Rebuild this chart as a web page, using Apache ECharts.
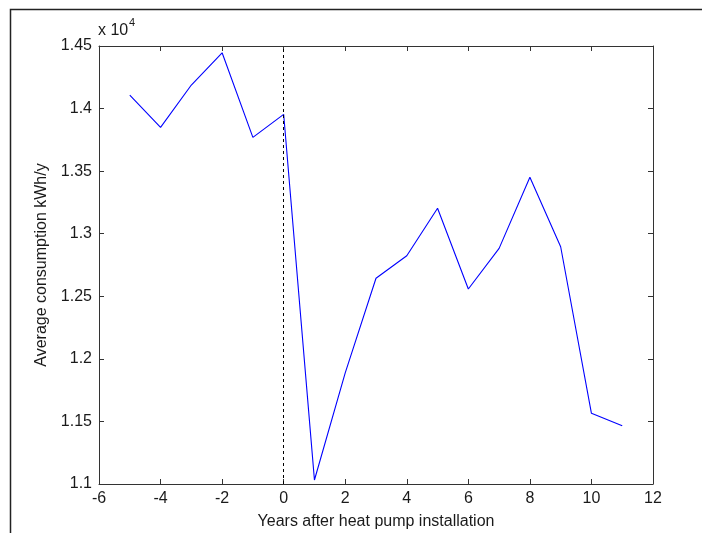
<!DOCTYPE html>
<html>
<head>
<meta charset="utf-8">
<script src="https://cdn.jsdelivr.net/npm/echarts@6/dist/echarts.min.js"></script>
<style>html,body{margin:0;padding:0;background:#fff;}#c{width:702px;height:533px;}</style>
</head>
<body>
<div id="c"></div>
<script>
const years = [-5,-4,-3,-2,-1,0,1,2,3,4,5,6,7,8,9,10,11];
const consumption = [14108,13850,14188,14446,13770,13954,11032,11888,12644,12824,13203,12558,12883,13451,12896,11565,11466];
const xTicks = [-6,-4,-2,0,2,4,6,8,10,12];
const yTicks = [1.1,1.15,1.2,1.25,1.3,1.35,1.4,1.45];
const xName = 'Years after heat pump installation';
const yName = 'Average consumption kWh/y';
const installYear = 0;

const font = 'Liberation Sans, Arial, sans-serif';
const axisColor = '#333';
const textColor = '#1a1a1a';
const chart = echarts.init(document.getElementById('c'), null, {renderer: 'canvas'});
const data = years.map((y, i) => [y, consumption[i] / 1e4]);

function xAxisCfg(pos, show) {
  return {
    type: 'value', position: pos, min: -6, max: 12, interval: 2,
    axisLine: {show: true, onZero: false, lineStyle: {color: axisColor, width: 1}},
    axisTick: {show: true, inside: true, length: 5, lineStyle: {color: axisColor}},
    axisLabel: {show: show, color: textColor, fontFamily: font, fontSize: 16, margin: 7},
    splitLine: {show: false},
    name: show ? xName : '', nameLocation: 'middle', nameGap: 30,
    nameTextStyle: {color: textColor, fontFamily: font, fontSize: 16}
  };
}
function yAxisCfg(pos, show) {
  return {
    type: 'value', position: pos, min: 1.1, max: 1.45, interval: 0.05,
    axisLine: {show: true, onZero: false, lineStyle: {color: axisColor, width: 1}},
    axisTick: {show: true, inside: true, length: 5, lineStyle: {color: axisColor}},
    axisLabel: {show: show, color: textColor, fontFamily: font, fontSize: 16, margin: 7,
      formatter: v => String(parseFloat(v.toFixed(2)))},
    splitLine: {show: false},
    name: show ? yName : '', nameLocation: 'middle', nameGap: 45,
    nameTextStyle: {color: textColor, fontFamily: font, fontSize: 16}
  };
}

chart.setOption({
  animation: false,
  backgroundColor: '#fff',
  grid: {left: 99, right: 49, top: 46, bottom: 49, containLabel: false, outerBoundsMode: 'none'},
  xAxis: [xAxisCfg('bottom', true), xAxisCfg('top', false)],
  yAxis: [yAxisCfg('left', true), yAxisCfg('right', false)],
  graphic: [
    {type: 'rect', left: 8, top: 7, shape: {width: 800, height: 600},
     style: {fill: 'none', stroke: '#222', lineWidth: 1.5}, silent: true},
    {type: 'text', left: 98, top: 23, style: {text: 'x 10', font: '16px ' + font, fill: textColor}},
    {type: 'text', left: 129, top: 17, style: {text: '4', font: '11px ' + font, fill: textColor}}
  ],
  series: [{
    type: 'line', data: data, symbol: 'none', xAxisIndex: 0, yAxisIndex: 0,
    lineStyle: {color: '#0000ff', width: 1.1},
    markLine: {
      silent: true, symbol: ['none', 'none'], label: {show: false},
      lineStyle: {color: '#000', type: [3, 3], width: 1},
      data: [{xAxis: installYear}]
    }
  }]
});
</script>
</body>
</html>
